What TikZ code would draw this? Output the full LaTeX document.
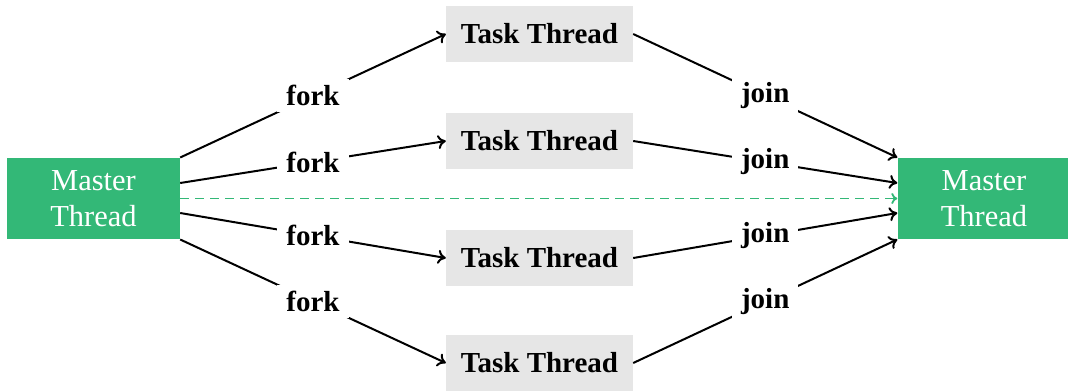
\documentclass[tikz,border=0pt]{standalone}
\usepackage{fontspec}
\setmainfont{Liberation Serif}
\usetikzlibrary{calc,arrows.meta}
\definecolor{masterGreen}{HTML}{33B877}
\definecolor{taskGray}{HTML}{E6E6E6}
\begin{document}
\begin{tikzpicture}[x=1pt,y=-1pt,
  master/.style={fill=masterGreen,text=white,minimum width=173pt,minimum height=81pt,
    align=center,inner sep=0pt,font=\fontsize{30.5}{36}\selectfont},
  task/.style={fill=taskGray,minimum width=187pt,minimum height=56pt,inner sep=0pt,
    font=\fontsize{29}{34}\selectfont\bfseries},
  flow/.style={line width=2pt,-{To[length=8pt,width=14pt]}},
  lbl/.style={fill=white,inner xsep=9pt,inner ysep=6pt,font=\fontsize{29}{34}\selectfont\bfseries}]
\useasboundingbox (0,0) rectangle (1068,391);

\node[master] (ml) at (93.5,198.5) {Master\\Thread};
\node[master] (mr) at (984,198.5) {Master\\Thread};

\node[task] (t1) at (539.5,34) {Task Thread};
\node[task] (t2) at (539.5,141) {Task Thread};
\node[task] (t3) at (539.5,258) {Task Thread};
\node[task] (t4) at (539.5,363) {Task Thread};

% fork edges leaving the master thread
\draw[flow] ($(ml.east)+(0,-41)$) -- node[lbl]{fork} (t1.west);
\draw[flow] ($(ml.east)+(0,-15.5)$) -- node[lbl]{fork} (t2.west);
\draw[flow] ($(ml.east)+(0,14.5)$) -- node[lbl]{fork} (t3.west);
\draw[flow] ($(ml.east)+(0,41)$) -- node[lbl]{fork} (t4.west);

% join edges back into the master thread
\draw[flow] (t1.east) -- node[lbl]{join} ($(mr.west)+(0,-41)$);
\draw[flow] (t2.east) -- node[lbl]{join} ($(mr.west)+(0,-15.5)$);
\draw[flow] (t3.east) -- node[lbl]{join} ($(mr.west)+(0,14.5)$);
\draw[flow] (t4.east) -- node[lbl]{join} ($(mr.west)+(0,41)$);

% master thread continues
\draw[masterGreen,line width=1.8pt,dash pattern=on 9pt off 6pt,-{To[length=6pt,width=11pt]}]
  (ml.east) -- (mr.west);
\end{tikzpicture}
\end{document}
